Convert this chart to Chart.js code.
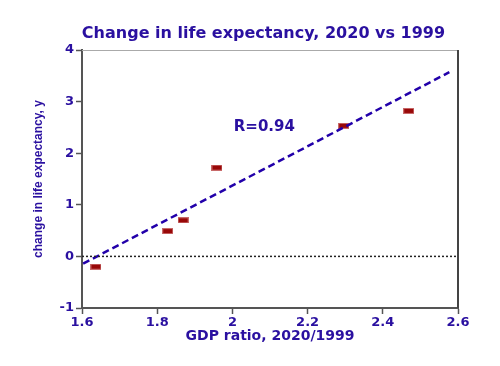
<!DOCTYPE html>
<html><head><meta charset="utf-8">
<script src="https://cdn.jsdelivr.net/npm/chart.js@4/dist/chart.umd.min.js"></script>
<style>html,body{margin:0;padding:0;background:#fff;} #wrap{width:500px;height:366px;}</style>
</head><body><div id="wrap"><canvas id="c" width="500" height="366"></canvas></div>
<script>
const chartTitle = 'Change in life expectancy, 2020 vs 1999';
const xAxisTitle = 'GDP ratio, 2020/1999';
const yAxisTitle = 'change in life expectancy, y';
const annotationText = 'R=0.94';
const gdpRatio = [1.637, 1.828, 1.869, 1.959, 2.296, 2.469];
const lifeExpChange = [-0.20, 0.49, 0.70, 1.72, 2.53, 2.82];
const fitX = [1.603, 2.577];
const fitY = [-0.14, 3.57];
const zeroX = [1.6, 2.6];
const zeroY = [0, 0];
const xTicks = [1.6, 1.8, 2, 2.2, 2.4, 2.6];
const yTicks = [-1, 0, 1, 2, 3, 4];
const annotX = 2.085, annotY = 2.50;

const TEXT = '#2a10a0';
const AXIS = '#555555';
const WIDE = '"DejaVu Sans", sans-serif';

const pt = document.createElement('canvas'); pt.width = 11; pt.height = 6;
const g = pt.getContext('2d');
g.fillStyle = '#c86a6a'; g.fillRect(0, 0, 11, 6);
g.fillStyle = '#980808'; g.fillRect(1, 1, 9, 4);

const toXY = (xs, ys) => xs.map((x, i) => ({x: x, y: ys[i]}));

const decor = {
  id: 'decor',
  beforeDatasetsDraw(chart) {
    const {ctx, chartArea: a} = chart;
    ctx.save();
    ctx.strokeStyle = '#aaaaaa'; ctx.lineWidth = 1;
    ctx.beginPath(); ctx.moveTo(a.left, a.top + 0.5); ctx.lineTo(a.right, a.top + 0.5); ctx.stroke();
    ctx.strokeStyle = '#444444'; ctx.lineWidth = 2;
    ctx.beginPath(); ctx.moveTo(a.right, a.top); ctx.lineTo(a.right, a.bottom); ctx.stroke();
    ctx.restore();
  },
  afterDraw(chart) {
    const {ctx} = chart;
    const xs = chart.scales.x, ys = chart.scales.y;
    ctx.save();
    ctx.fillStyle = TEXT;
    ctx.textAlign = 'center';
    ctx.textBaseline = 'alphabetic';
    ctx.font = 'bold 16px ' + WIDE;
    ctx.fillText(chartTitle, 263.5, 37.5);
    ctx.font = 'bold 15px ' + WIDE;
    ctx.textBaseline = 'middle';
    ctx.fillText(annotationText, xs.getPixelForValue(annotX), ys.getPixelForValue(annotY));
    ctx.restore();
  }
};

new Chart(document.getElementById('c'), {
  type: 'scatter',
  data: {
    datasets: [
      {
        data: toXY(zeroX, zeroY), showLine: true, borderColor: '#222222', borderWidth: 1.5,
        borderDash: [2, 2], pointRadius: 0, fill: false
      },
      {
        data: toXY(fitX, fitY), showLine: true, borderColor: '#2200aa', borderWidth: 2.5,
        borderDash: [7, 4], pointRadius: 0, fill: false
      },
      {
        data: toXY(gdpRatio, lifeExpChange), pointStyle: pt, pointRadius: 5, showLine: false
      }
    ]
  },
  options: {
    responsive: false,
    animation: false,
    devicePixelRatio: 1,
    layout: {padding: {top: 50, right: 42, left: 0, bottom: 0}},
    plugins: {legend: {display: false}, tooltip: {enabled: false}, title: {display: false}},
    scales: {
      x: {
        type: 'linear', min: 1.6, max: 2.6,
        afterBuildTicks: s => { s.ticks = xTicks.map(v => ({value: v})); },
        afterFit: s => { s.height = 58; },
        ticks: {callback: v => String(v), color: TEXT, font: {family: WIDE, weight: 'bold', size: 13}, padding: 1, maxRotation: 0, autoSkip: false},
        grid: {display: true, drawOnChartArea: false, drawTicks: true, tickLength: 6, tickColor: AXIS, tickWidth: 1.5},
        border: {display: true, color: AXIS, width: 2},
        title: {display: true, text: xAxisTitle, color: TEXT, font: {family: WIDE, weight: 'bold', size: 14}, padding: {top: 0, bottom: 21.6}}
      },
      y: {
        type: 'linear', min: -1, max: 4,
        afterBuildTicks: s => { s.ticks = yTicks.map(v => ({value: v})); },
        afterFit: s => { s.width = 82; },
        ticks: {callback: v => String(v), color: TEXT, font: {family: WIDE, weight: 'bold', size: 13}, padding: 2},
        grid: {display: true, drawOnChartArea: false, drawTicks: true, tickLength: 6, tickColor: AXIS, tickWidth: 1.5},
        border: {display: true, color: AXIS, width: 2},
        title: {display: true, text: yAxisTitle, color: TEXT, font: {family: '"Liberation Sans", Arial, sans-serif', weight: 'bold', size: 12}, padding: {top: 31, bottom: 0}}
      }
    }
  },
  plugins: [decor]
});
</script>
</body></html>
